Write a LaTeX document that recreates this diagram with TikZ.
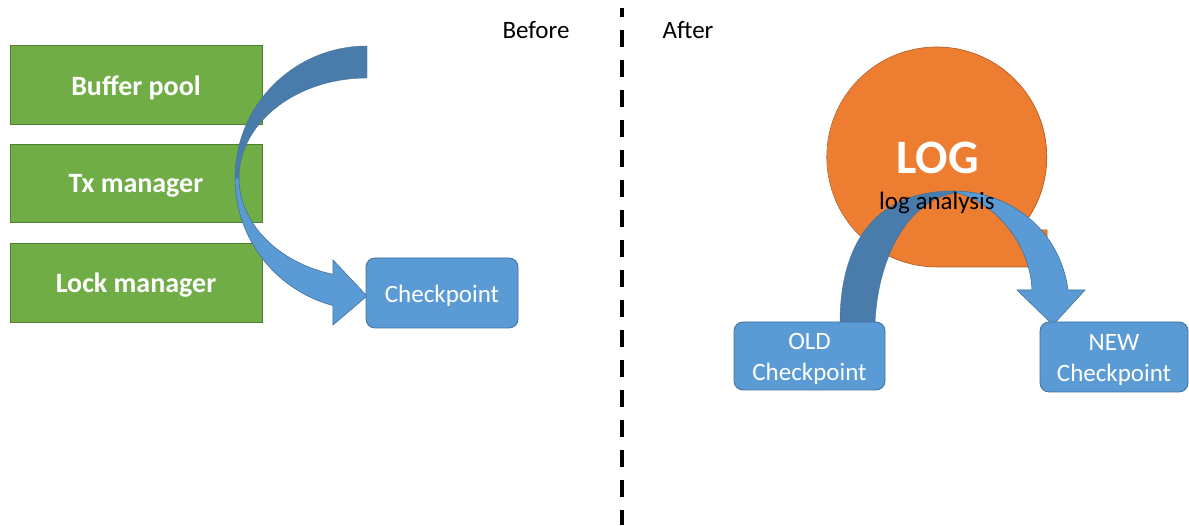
\documentclass[tikz,border=0pt]{standalone}
\usepackage{fontspec}
\setmainfont{Carlito}
\definecolor{gfill}{HTML}{70AD47}
\definecolor{gline}{HTML}{507E32}
\definecolor{bfill}{HTML}{5B9BD5}
\definecolor{bline}{HTML}{41719C}
\definecolor{bdark}{HTML}{497CAA}
\definecolor{ofill}{HTML}{ED7D31}
\definecolor{oline}{HTML}{AE5A21}
% lower a text inside its box without changing the box's own size
\newcommand{\lowertext}[2]{\raisebox{-#1}[\height][\depth]{#2}}
\tikzset{
  modbox/.style={draw=gline, line width=0.8pt, fill=gfill, text=white, inner sep=0pt,
    minimum width=252pt, font=\fontsize{28}{34}\selectfont\bfseries},
  ckbox/.style={draw=bline, line width=0.8pt, fill=bfill, text=white, inner sep=0pt,
    rounded corners=9pt, align=center, font=\fontsize{25}{31}\selectfont},
  label/.style={inner sep=0pt, font=\fontsize{25}{31}\selectfont},
  arrowlight/.style={fill=bfill, draw=bline, line width=0.6pt},
  arrowdark/.style={fill=bdark, draw=bdark!90!black, line width=0.4pt},
}
\begin{document}
\begin{tikzpicture}[x=1pt,y=1pt]
\useasboundingbox (0,0) rectangle (1189,525);
\fill[white] (0,0) rectangle (1189,525);

% separator between the two halves
\coordinate (sepTop) at (621.5,517);
\coordinate (sepBot) at (621.5,0);
\draw[line width=4pt, dash pattern=on 17pt off 13pt, dash phase=8pt] (sepTop) -- (sepBot);

\node[label, anchor=center] (before) at (536,495) {Before};
\node[label, anchor=center] (after) at (688,495) {After};

% ---- left half: modules feeding the checkpoint
\node[modbox, minimum height=79pt] (buf) at (136,440.5) {\lowertext{3pt}{Buffer pool}};
\node[modbox, minimum height=78pt] (tx) at (136,342) {\lowertext{3pt}{Tx manager}};
\node[modbox, minimum height=79pt] (lock) at (136,242.5) {\lowertext{3pt}{Lock manager}};

% curved arrow: back face (dark) and front face with head (light)
\fill[arrowdark] (367,479) arc[start angle=90, end angle=180, radius=132]
  -- (239,347) arc[start angle=180, end angle=90, x radius=128, y radius=100] -- cycle;
\filldraw[arrowlight] (235,347) arc[start angle=180, end angle=255, radius=132]
  -- (333,200) -- (367,229) -- (333,265) -- (333,250.6)
  arc[start angle=254.6, end angle=180, x radius=128, y radius=100] -- cycle;

\node[ckbox, minimum width=152pt, minimum height=70pt] (ck) at (442,232) {\lowertext{3pt}{Checkpoint}};

% ---- right half: log analysis between checkpoints
\fill[ofill] (937,368) circle[radius=110];
\fill[ofill] (937,258) -- (1047,258) -- (1047,295) -- (1019,295) -- (937,368) -- cycle;
\draw[oline, line width=0.6pt] (1019,295) arc[start angle=-41.6, end angle=270, radius=110]
  -- (1047,258) -- (1047,295) -- cycle;
\fill[ofill] (1000,262) -- (1045,262) -- (1045,293) -- (1017,293) -- cycle;
\node[inner sep=0pt, text=white, font=\fontsize{48}{56}\selectfont\bfseries] (log) at (937.5,367) {LOG};

\fill[arrowdark] (840,202) .. controls (840,275) and (870,334) .. (953,334)
  -- (957,332) .. controls (910,327) and (878,270) .. (875,202) -- cycle;
\filldraw[arrowlight] (953,334) .. controls (1010,334) and (1060,295) .. (1068,235)
  -- (1085,235) -- (1053,200) -- (1017,235) -- (1032,235)
  .. controls (1030,285) and (990,325) .. (957,332) -- cycle;

\node[label, anchor=base] (ana) at (937,315) {log analysis};

\node[ckbox, minimum width=151pt, minimum height=68pt] (old) at (809.5,169)
  {\lowertext{3pt}{\begin{tabular}{@{}c@{}}OLD\\Checkpoint\end{tabular}}};
\node[ckbox, minimum width=148pt, minimum height=70pt] (new) at (1114,168)
  {\lowertext{3pt}{\begin{tabular}{@{}c@{}}NEW\\Checkpoint\end{tabular}}};
\end{tikzpicture}
\end{document}
